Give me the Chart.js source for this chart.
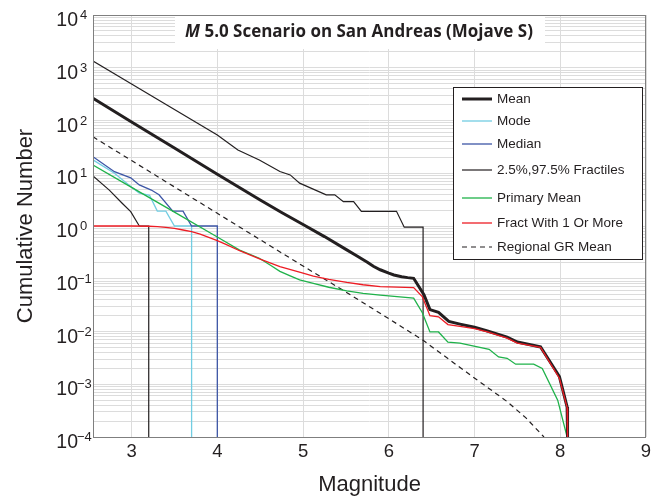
<!DOCTYPE html>
<html>
<head>
<meta charset="utf-8">
<script src="https://cdn.jsdelivr.net/npm/chart.js@4.4.0/dist/chart.umd.min.js"></script>
<style>
  html, body { margin: 0; padding: 0; background: #fff; }
  canvas { display: block; }
</style>
</head>
<body>
<canvas id="gr" width="657" height="497"></canvas>
<script>
// magnitude ticks and decade exponents
const xTicks = [3, 4, 5, 6, 7, 8, 9];
const yExp = [-4, -3, -2, -1, 0, 1, 2, 3, 4];

// Mean
const meanM = [2.55, 3.0, 3.5, 4.0, 4.5, 4.75, 5.0, 5.25, 5.5, 5.62, 5.75, 5.82, 5.9, 6.0, 6.06, 6.15, 6.22, 6.29, 6.41, 6.48, 6.58, 6.70, 6.83, 7.0, 7.15, 7.38, 7.5, 7.77, 7.99, 8.08, 8.085];
const meanN = [263, 94, 30, 9.6, 3.1, 1.8, 1.07, 0.63, 0.36, 0.275, 0.205, 0.172, 0.148, 0.128, 0.118, 0.109, 0.105, 0.102, 0.05, 0.026, 0.023, 0.0155, 0.0138, 0.012, 0.0102, 0.0078, 0.0063, 0.0051, 0.0014, 0.00037, 0.0001];

// Mode
const modeM = [2.55, 2.80, 2.99, 3.09, 3.21, 3.30, 3.40, 3.50, 3.70, 3.70];
const modeN = [17.9, 10, 5.6, 4.2, 3.8, 1.92, 1.92, 1.0, 1.0, 0.0001];

// Median
const medM = [2.55, 2.80, 2.99, 3.09, 3.23, 3.32, 3.48, 3.60, 3.70, 4.0, 4.0];
const medN = [20.5, 10.7, 8.2, 6.0, 4.8, 3.9, 1.92, 1.92, 1.0, 1.0, 0.0001];

// 97.5% fractile
const hiM = [2.55, 3.0, 3.5, 4.0, 4.24, 4.49, 4.73, 4.85, 4.96, 5.27, 5.37, 5.47, 5.59, 5.68, 6.09, 6.18, 6.40, 6.40];
const hiN = [1340, 490, 162, 53, 27.5, 17.9, 10.8, 9.3, 6.5, 3.9, 3.9, 2.9, 2.9, 1.9, 1.9, 0.95, 0.95, 0.0001];

// 2.5% fractile
const loM = [2.55, 2.74, 2.89, 2.99, 3.09, 3.20, 3.20];
const loN = [8.9, 4.8, 2.7, 1.87, 1.0, 1.0, 0.0001];

// Primary Mean
const primM = [2.55, 3.0, 3.5, 4.0, 4.26, 4.49, 4.62, 4.73, 4.85, 4.96, 5.12, 5.3, 5.51, 5.7, 5.90, 6.29, 6.39, 6.48, 6.58, 6.69, 6.83, 7.17, 7.28, 7.38, 7.48, 7.69, 7.79, 7.97, 8.08];
const primN = [14.3, 5.4, 1.83, 0.62, 0.35, 0.245, 0.18, 0.138, 0.113, 0.095, 0.082, 0.069, 0.059, 0.053, 0.049, 0.043, 0.023, 0.0098, 0.0098, 0.0063, 0.006, 0.0046, 0.0033, 0.0031, 0.0024, 0.0024, 0.002, 0.0005, 0.0001];

// Fract With 1 Or More
const fracM = [2.55, 3.0, 3.2, 3.3, 3.4, 3.5, 3.6, 3.7, 3.8, 3.9, 4.0, 4.1, 4.26, 4.5, 4.73, 5.0, 5.12, 5.3, 5.51, 5.7, 5.90, 6.29, 6.39, 6.48, 6.58, 6.69, 6.83, 7.0, 7.15, 7.38, 7.5, 7.77, 7.99, 8.08, 8.085];
const fracN = [1.0, 1.0, 0.99, 0.97, 0.94, 0.9, 0.84, 0.78, 0.7, 0.61, 0.53, 0.45, 0.34, 0.235, 0.17, 0.128, 0.112, 0.097, 0.085, 0.077, 0.071, 0.068, 0.046, 0.020, 0.019, 0.0135, 0.0125, 0.0113, 0.0098, 0.0075, 0.006, 0.005, 0.0013, 0.00036, 0.0001];

// Regional GR Mean
const regM = [2.55, 3.0, 3.5, 4.0, 4.5, 5.0, 5.5, 6.0, 6.4, 6.95, 7.38, 7.6, 7.81];
const regN = [49, 17.4, 5.5, 1.74, 0.55, 0.174, 0.056, 0.0175, 0.0068, 0.0015, 0.00047, 0.00023, 0.0001];

const pts = (m, n) => m.map((v, i) => ({ x: v, y: n[i] }));

const legendRows = [
  { label: 'Mean', color: '#231f20', width: 3 },
  { label: 'Mode', color: '#72cde2', width: 1.3 },
  { label: 'Median', color: '#3d56a6', width: 1.3 },
  { label: '2.5%,97.5% Fractiles', color: '#231f20', width: 1.2 },
  { label: 'Primary Mean', color: '#1fb24a', width: 1.3 },
  { label: 'Fract With 1 Or More', color: '#ed1c24', width: 1.3 },
  { label: 'Regional GR Mean', color: '#231f20', width: 1.2, dash: [5, 4] }
];
const legendY = [99, 121, 144, 170, 198, 223, 247];

function line(data, row, order) {
  return {
    data: data,
    showLine: true,
    borderColor: row.color,
    borderWidth: row.width,
    borderDash: row.dash || [],
    pointRadius: 0,
    tension: 0,
    order: order
  };
}

const decorations = {
  id: 'decorations',
  beforeDatasetsDraw(chart) {
    const c = chart.ctx;
    // white title box over the grid
    c.save();
    c.fillStyle = '#fff';
    c.fillRect(175, 16, 370, 33);
    const rest = ' 5.0 Scenario on San Andreas (Mojave S)';
    let size = 16;
    c.font = 'italic bold ' + size + 'px "Open Sans"';
    let w1 = c.measureText('M').width;
    c.font = 'bold ' + size + 'px "Open Sans"';
    let w2 = c.measureText(rest).width;
    size = size * 348 / (w1 + w2);
    c.font = 'italic bold ' + size + 'px "Open Sans"';
    w1 = c.measureText('M').width;
    c.font = 'bold ' + size + 'px "Open Sans"';
    w2 = c.measureText(rest).width;
    const x0 = 359 - (w1 + w2) / 2;
    c.fillStyle = '#231f20';
    c.textBaseline = 'middle';
    c.font = 'italic bold ' + size + 'px "Open Sans"';
    c.fillText('M', x0, 32);
    c.font = 'bold ' + size + 'px "Open Sans"';
    c.fillText(rest, x0 + w1, 32);
    c.restore();
  },
  afterDraw(chart) {
    const c = chart.ctx;
    const a = chart.chartArea;
    const xs = chart.scales.x, ys = chart.scales.y;
    c.save();
    // frame
    c.strokeStyle = '#7f7f7f';
    c.lineWidth = 1;
    c.strokeRect(a.left + 0.5, a.top + 0.5, a.right - a.left - 1, a.bottom - a.top);

    // legend
    c.fillStyle = '#fff';
    c.fillRect(453.5, 87.5, 189, 172);
    c.strokeStyle = '#231f20';
    c.strokeRect(453.5, 87.5, 189, 172);
    c.font = '13.5px "Liberation Sans"';
    c.textBaseline = 'middle';
    legendRows.forEach((r, i) => {
      const y = legendY[i];
      c.beginPath();
      c.strokeStyle = r.color;
      c.lineWidth = r.width;
      c.setLineDash(r.dash || []);
      c.moveTo(462, y);
      c.lineTo(492, y);
      c.stroke();
      c.setLineDash([]);
      c.fillStyle = '#231f20';
      c.fillText(r.label, 497, y);
    });

    // x tick labels
    c.fillStyle = '#231f20';
    c.font = '18.5px "Liberation Sans"';
    c.textAlign = 'center';
    c.textBaseline = 'middle';
    xTicks.forEach(v => c.fillText(String(v), xs.getPixelForValue(v), 452));

    // y tick labels 10^n
    yExp.forEach(e => {
      const y = ys.getPixelForValue(Math.pow(10, e));
      c.textAlign = 'right';
      c.textBaseline = 'alphabetic';
      c.font = '19.5px "Liberation Sans"';
      c.fillText('10', 78, y + 11);
      c.textAlign = 'left';
      c.font = '13px "Liberation Sans"';
      const s = e < 0 ? '\u2212' + (-e) : String(e);
      c.fillText(s, e < 0 ? 77 : 80, y + 4);
    });

    // axis titles
    c.font = '22px "Liberation Sans"';
    c.textAlign = 'center';
    c.textBaseline = 'alphabetic';
    c.fillText('Magnitude', (a.left + a.right) / 2, 491);
    c.translate(32, 226);
    c.rotate(-Math.PI / 2);
    c.fillText('Cumulative Number', 0, 0);
    c.restore();
  }
};

const ctx = document.getElementById('gr').getContext('2d');
const grChart = new Chart(ctx, {
  type: 'scatter',
  data: {
    datasets: [
      line(pts(fracM, fracN), legendRows[5], 0),
      line(pts(meanM, meanN), legendRows[0], 1),
      line(pts(primM, primN), legendRows[4], 2),
      line(pts(hiM, hiN), legendRows[3], 3),
      line(pts(loM, loN), legendRows[3], 3),
      line(pts(medM, medN), legendRows[2], 4),
      line(pts(modeM, modeN), legendRows[1], 5),
      line(pts(regM, regN), legendRows[6], 6)
    ]
  },
  options: {
    responsive: false,
    animation: false,
    layout: { padding: { top: 15, right: 11, left: 0, bottom: 0 } },
    plugins: { legend: { display: false }, tooltip: { enabled: false } },
    scales: {
      x: {
        type: 'linear',
        min: 2.55,
        max: 9,
        afterBuildTicks: s => { s.ticks = xTicks.map(v => ({ value: v })); },
        afterFit: s => { s.height = 60; },
        ticks: { display: false },
        grid: { color: '#dcdcdc', drawTicks: false },
        border: { display: false }
      },
      y: {
        type: 'logarithmic',
        min: 1e-4,
        max: 1e4,
        afterBuildTicks: s => {
          const t = [];
          yExp.forEach(e => {
            for (let k = 1; k <= 9; k++) {
              if (e === 4 && k > 1) break;
              t.push({ value: k * Math.pow(10, e) });
            }
          });
          s.ticks = t;
        },
        afterFit: s => { s.width = 93; },
        ticks: { display: false },
        grid: { color: '#dcdcdc', drawTicks: false },
        border: { display: false }
      }
    }
  },
  plugins: [decorations]
});
</script>
</body>
</html>
